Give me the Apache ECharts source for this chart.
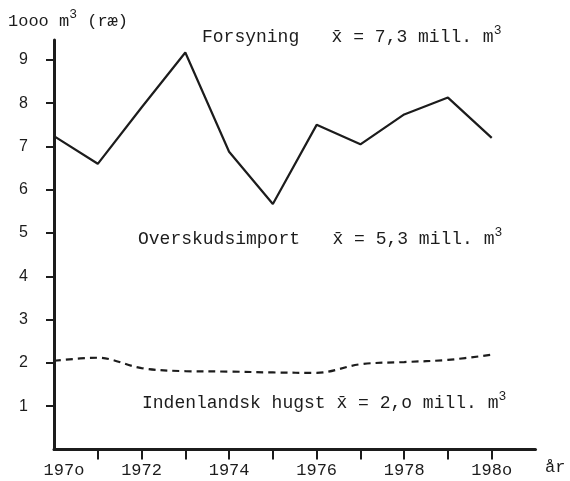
<!DOCTYPE html>
<html><head><meta charset="utf-8">
<script src="https://cdn.jsdelivr.net/npm/echarts@6/dist/echarts.min.js"></script>
<style>html,body{margin:0;padding:0;background:#fff}#c{width:570px;height:481px}</style>
</head><body><div id="c"></div>
<script>
// ---- data ----
const years = [1970, 1971, 1972, 1973, 1974, 1975, 1976, 1977, 1978, 1979, 1980];
const forsyning = [7.24, 6.60, 7.90, 9.17, 6.88, 5.67, 7.50, 7.05, 7.74, 8.13, 7.20];
const indenlandskHugst = [2.05, 2.12, 1.88, 1.81, 1.80, 1.78, 1.77, 1.97, 2.02, 2.07, 2.19];
const xTickYears = [1971, 1972, 1973, 1974, 1975, 1976, 1977, 1978, 1979, 1980];
const xLabelYears = [1970, 1972, 1974, 1976, 1978, 1980];
const xLabelTexts = ['197o', '1972', '1974', '1976', '1978', '198o'];
const yTickValues = [1, 2, 3, 4, 5, 6, 7, 8, 9];
const yLabelTexts = ['1', '2', '3', '4', '5', '6', '7', '8', '9'];
const unitLabel = ['1ooo m', '3', ' (ræ)'];
const xAxisName = 'år';
const noteForsyning = ['Forsyning   x\u0304 = 7,3 mill. m', '3'];
const noteImport = ['Overskudsimport   x\u0304 = 5,3 mill. m', '3'];
const noteHugst = ['Indenlandsk hugst x\u0304 = 2,o mill. m', '3'];

// ---- chart ----
const FONT = 'Liberation Mono';
const INK = '#1c1c1c';
const rich = {
  a: { fontFamily: FONT, fontSize: 18, fontWeight: 'normal', color: INK, lineHeight: 26 },
  s: { fontFamily: FONT, fontSize: 13, fontWeight: 'normal', color: INK, verticalAlign: 'top', lineHeight: 14 }
};
function note(parts, left, top, size) {
  const r = JSON.parse(JSON.stringify(rich));
  if (size) r.a.fontSize = size;
  return {
    left: left, top: top, padding: 0,
    text: parts.map((p, i) => (i % 2 === 0 ? '{a|' + p + '}' : '{s|' + p + '}')).join(''),
    textStyle: { fontWeight: 'normal', rich: r }
  };
}
const chart = echarts.init(document.getElementById('c'), null, { renderer: 'canvas' });
chart.setOption({
  backgroundColor: '#fff',
  animation: false,
  title: [
    note(unitLabel, 8, 8, 17),
    note(noteForsyning, 202, 24),
    note(noteImport, 138, 226),
    note(noteHugst, 142, 390),
    { left: 545, top: 459, padding: 0, text: xAxisName,
      textStyle: { fontFamily: FONT, fontSize: 17, fontWeight: 'normal', color: INK } }
  ],
  grid: { left: 54, right: 34.5, top: 40, bottom: 31.5, containLabel: false },
  xAxis: {
    type: 'value', min: 1970, max: 1981, interval: 1,
    splitLine: { show: false },
    axisLine: { lineStyle: { color: INK, width: 3 } },
    axisTick: { show: true, length: 10, lineStyle: { color: INK, width: 2 }, customValues: xTickYears },
    axisLabel: {
      customValues: xLabelYears, margin: 12, color: INK, fontFamily: FONT, fontSize: 17,
      formatter: function (v) {
        const i = xLabelYears.indexOf(Math.round(v));
        if (i < 0) return '';
        return i === 0 ? '{f|' + xLabelTexts[i] + '}' : xLabelTexts[i];
      },
      rich: { f: { fontFamily: FONT, fontSize: 17, color: INK, padding: [0, 0, 0, 20] } }
    }
  },
  yAxis: {
    type: 'value', min: 0, max: 9.46, interval: 1,
    splitLine: { show: false },
    axisLine: { show: true, lineStyle: { color: INK, width: 3 } },
    axisTick: { show: true, length: 8, lineStyle: { color: INK, width: 2 }, customValues: yTickValues },
    axisLabel: {
      customValues: yTickValues, margin: 26, color: INK, fontFamily: 'Liberation Sans', fontSize: 16,
      formatter: function (v) {
        const i = yTickValues.indexOf(Math.round(v));
        return i < 0 ? '' : yLabelTexts[i];
      }
    }
  },
  series: [
    {
      name: 'Forsyning', type: 'line', symbol: 'none',
      data: years.map((y, i) => [y, forsyning[i]]),
      lineStyle: { color: INK, width: 2.2 }
    },
    {
      name: 'Indenlandsk hugst', type: 'line', symbol: 'none', smooth: 0.35,
      data: years.map((y, i) => [y, indenlandskHugst[i]]),
      lineStyle: { color: INK, width: 2.2, type: [7, 5] }
    }
  ]
});
</script>
</body></html>
